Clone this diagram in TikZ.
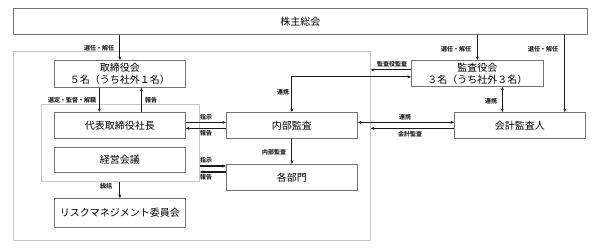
\documentclass[tikz,border=0pt]{standalone}
\usepackage{fontspec}
\setmainfont{Noto Sans CJK JP}
\usetikzlibrary{arrows.meta,calc}
\begin{document}
\begin{tikzpicture}[x=1pt,y=-1pt,
  box/.style={draw=black!55, fill=white, line width=0.8pt, inner sep=0pt, anchor=north west, font=\fontsize{10}{12}\selectfont, align=center},
  grp/.style={draw=black!22, line width=0.8pt},
  arr/.style={line width=1.1pt, draw=black!90, -{Stealth[length=3.5pt,width=3pt]}},
  darr/.style={line width=1.1pt, draw=black!90, {Stealth[length=3.5pt,width=3pt]}-{Stealth[length=3.5pt,width=3pt]}},
  lab/.style={font=\fontsize{6}{7}\selectfont\bfseries, inner sep=0pt, text=black!85}]
\useasboundingbox (0,0) rectangle (600,251);
% group rectangles
\node[grp, minimum width=357, minimum height=189, anchor=north west, inner sep=0pt] (outer) at (13,51) {};
\node[grp, minimum width=158, minimum height=77, anchor=north west, inner sep=0pt] (inner) at (41,104) {};
% boxes
\node[box, minimum width=574, minimum height=26] (kabu) at (13,8) {株主総会};
\node[box, minimum width=131, minimum height=27] (tori) at (54,60) {取締役会\\５名（うち社外１名）};
\node[box, minimum width=131, minimum height=26] (daihyo) at (54,112) {代表取締役社長};
\node[box, minimum width=131, minimum height=25] (keiei) at (54,147) {経営会議};
\node[box, minimum width=131, minimum height=29] (risk) at (54,198) {リスクマネジメント委員会};
\node[box, minimum width=131, minimum height=26] (naibu) at (226,112) {内部監査};
\node[box, minimum width=131, minimum height=26] (kakubu) at (226,164) {各部門};
\node[box, minimum width=132, minimum height=26] (kansa) at (411,60) {監査役会\\３名（うち社外３名）};
\node[box, minimum width=131, minimum height=26] (kaikei) at (454,112) {会計監査人};
% helper coordinates
\coordinate (k1) at ([xshift=-21pt]kaikei.north east);
% shareholders
\draw[arr] (kabu.south -| tori.north) -- (tori.north);
\draw[arr] (kabu.south -| kansa.north) -- (kansa.north);
\draw[arr] (kabu.south -| k1) -- (k1);
\node[lab] (l1) at (99,48) {選任・解任};
\node[lab] (l2) at (456,49) {選任・解任};
\node[lab] (l3) at (543,49) {選任・解任};
% board <-> president
\draw[arr] ([xshift=-20.5pt]tori.south) -- ([xshift=-20.5pt]daihyo.north);
\draw[arr] ([xshift=21.5pt]daihyo.north) -- ([xshift=21.5pt]tori.south);
\node[lab] (l4) at (72,100) {選定・監督・解職};
\node[lab] (l5) at (151,100) {報告};
% president <-> internal audit
\draw[arr] ([yshift=3pt]daihyo.east) -- ([yshift=3pt]naibu.west);
\draw[arr] ([yshift=-3pt]naibu.west) -- ([yshift=-3pt]daihyo.east);
\node[lab] (l6) at (206,117) {指示};
\node[lab] (l7) at (206,133) {報告};
% group <-> departments
\coordinate (g1) at ([yshift=-2pt]kakubu.north west);
\coordinate (g2) at ([yshift=-8pt]kakubu.north west);
\draw[arr] (inner.east |- g1) -- (g1);
\draw[arr] (g2) -- (inner.east |- g2);
\node[lab] (l8) at (206,160) {指示};
\node[lab] (l9) at (206,177) {報告};
% internal audit -> departments
\draw[arr] (naibu.south) -- (kakubu.north);
\node[lab] (l10) at (274,152) {内部監査};
% group -> risk
\draw[arr] (inner.south -| risk.north) -- (risk.north);
\node[lab] (l11) at (106,186) {統括};
% internal audit <-> auditors
\coordinate (a1) at ([yshift=-3.5pt]kansa.west);
\draw[darr] (naibu.north) -- (naibu.north |- a1) -- (a1);
\node[lab] (l12) at (283,92) {連携};
\coordinate (a2) at ([yshift=3.5pt]kansa.west);
\draw[arr] (a2) -- (outer.east |- a2);
\node[lab] (l13) at (392,64) {監査役監査};
% auditors <-> accounting auditor
\coordinate (a3) at ([xshift=25pt]kansa.south);
\draw[darr] (a3) -- (a3 |- kaikei.north);
\node[lab] (l14) at (491,101) {連携};
% internal audit <-> accounting auditor
\draw[darr] ([yshift=3pt]naibu.east) -- ([yshift=3pt]kaikei.west);
\node[lab] (l15) at (405,117) {連携};
\coordinate (a4) at ([yshift=-3pt]kaikei.west);
\draw[arr] (a4) -- (outer.east |- a4);
\node[lab] (l16) at (410,134) {会計監査};
\end{tikzpicture}
\end{document}
